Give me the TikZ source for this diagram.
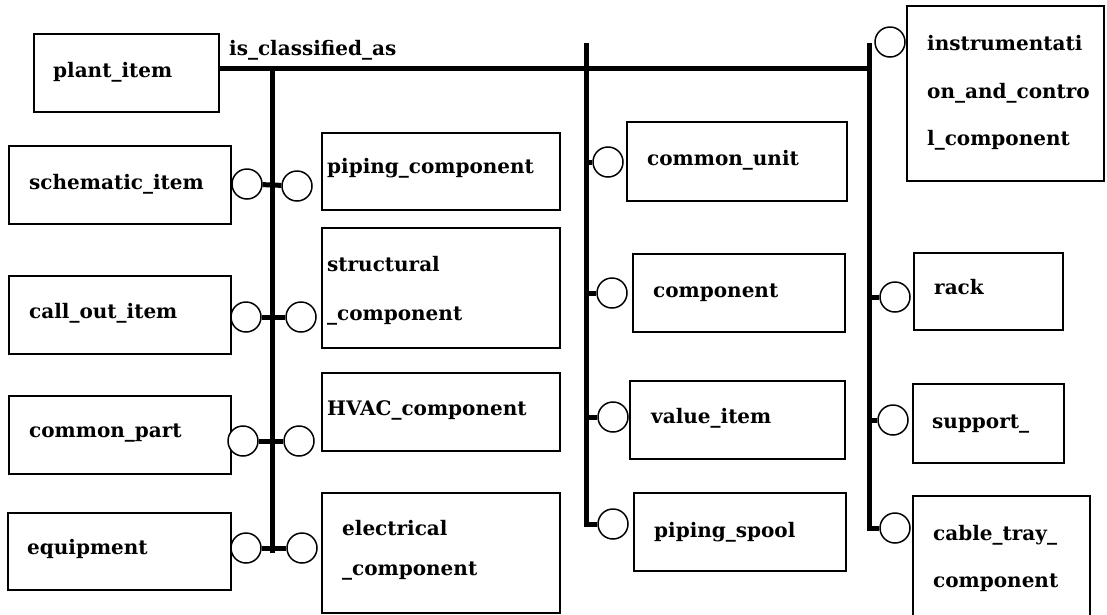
\documentclass[tikz,border=0pt]{standalone}
\usepackage{fontspec}
\setmainfont{DejaVu Serif}
\begin{document}
\begin{tikzpicture}[x=1pt,y=-1pt,
  box/.style={draw, line width=1.7pt, rectangle, inner sep=0pt, anchor=north west},
  lbl/.style={anchor=base west, inner sep=0pt, font=\fontsize{20}{24}\selectfont\bfseries},
  ring/.style={draw, circle, line width=1.5pt, minimum size=30pt, inner sep=0pt, fill=white},
  trunk/.style={line width=5pt},
  stub/.style={line width=5pt}]
\useasboundingbox (0,0) rectangle (1107,614);
\fill[white] (0,0) rectangle (1107,614);

% ---- boxes
\node[box, minimum width=185pt, minimum height=78pt] (plant) at (33,33) {};
\node[box, minimum width=222pt, minimum height=78pt] (schem) at (8,145) {};
\node[box, minimum width=222pt, minimum height=78pt] (callout) at (8,275) {};
\node[box, minimum width=222pt, minimum height=78pt] (cpart) at (8,395) {};
\node[box, minimum width=223pt, minimum height=77pt] (equip) at (7,512) {};
\node[box, minimum width=238pt, minimum height=77pt] (piping) at (321,132) {};
\node[box, minimum width=238pt, minimum height=120pt] (struct) at (321,227) {};
\node[box, minimum width=238pt, minimum height=78pt] (hvac) at (321,372) {};
\node[box, minimum width=238pt, minimum height=120pt] (elec) at (321,492) {};
\node[box, minimum width=220pt, minimum height=79pt] (cunit) at (626,121) {};
\node[box, minimum width=212pt, minimum height=78pt] (comp) at (632,253) {};
\node[box, minimum width=215pt, minimum height=78pt] (value) at (629,380) {};
\node[box, minimum width=212pt, minimum height=78pt] (spool) at (633,492) {};
\node[box, minimum width=197pt, minimum height=175pt] (instr) at (906,5) {};
\node[box, minimum width=149pt, minimum height=77pt] (rack) at (913,252) {};
\node[box, minimum width=151pt, minimum height=79pt] (support) at (912,383) {};
\node[box, minimum width=177pt, minimum height=130pt] (cable) at (912,495) {};

% ---- labels
\node[lbl] (t-plant) at (53,77) {plant\_item};
\node[lbl] (t-rel) at (229,55) {is\_classified\_as};
\node[lbl] (t-schem) at (29,189) {schematic\_item};
\node[lbl] (t-callout) at (29,318) {call\_out\_item};
\node[lbl] (t-cpart) at (29,437) {common\_part};
\node[lbl] (t-equip) at (27,554) {equipment};
\node[lbl] (t-piping) at (327,173) {piping\_component};
\node[lbl] (t-struct1) at (327,271) {structural};
\node[lbl] (t-struct2) at (327,320) {\_component};
\node[lbl] (t-hvac) at (327,415) {HVAC\_component};
\node[lbl] (t-elec1) at (342,535) {electrical};
\node[lbl] (t-elec2) at (342,575) {\_component};
\node[lbl] (t-cunit) at (647,165) {common\_unit};
\node[lbl] (t-comp) at (653,297) {component};
\node[lbl] (t-value) at (651,423) {value\_item};
\node[lbl] (t-spool) at (654,537) {piping\_spool};
\node[lbl] (t-instr1) at (927,50) {instrumentati};
\node[lbl] (t-instr2) at (927,98) {on\_and\_contro};
\node[lbl] (t-instr3) at (927,145) {l\_component};
\node[lbl] (t-rack) at (934,294) {rack};
\node[lbl] (t-support) at (932,428) {support\_};
\node[lbl] (t-cable1) at (933,540) {cable\_tray\_};
\node[lbl] (t-cable2) at (933,587) {component};

% ---- trunk coordinates
\coordinate (h0) at (218,68);
\coordinate (h1) at (872,68);
\coordinate (v1t) at (272,68);
\coordinate (v1b) at (272,553);
\coordinate (v2t) at (586,43);
\coordinate (v2b) at (586,526.5);
\coordinate (v3t) at (869,43);
\coordinate (v3b) at (869,530.5);
\coordinate (m1) at (584,162);
\coordinate (m2) at (584,293);
\coordinate (m3) at (584,417);
\coordinate (m4) at (584,524);
\coordinate (r2) at (867,297);
\coordinate (r3) at (867,420);
\coordinate (r4) at (867,528);

% ---- rings
\node[ring] (aL) at (247,184) {};
\node[ring] (aR) at (297,186) {};
\node[ring] (bL) at (246,317) {};
\node[ring] (bR) at (301,317) {};
\node[ring] (cL) at (243,441) {};
\node[ring] (cR) at (299,441) {};
\node[ring] (dL) at (246,548) {};
\node[ring] (dR) at (302,548) {};
\node[ring] (mc1) at (608,162) {};
\node[ring] (mc2) at (612,293) {};
\node[ring] (mc3) at (613,417) {};
\node[ring] (mc4) at (613,524) {};
\node[ring] (rc1) at (890,42) {};
\node[ring] (rc2) at (895,297) {};
\node[ring] (rc3) at (893,420) {};
\node[ring] (rc4) at (895,528) {};

% ---- trunks
\draw[trunk] (h0) -- (h1);
\draw[trunk] (v1t) -- (v1b);
\draw[trunk] (v2t) -- (v2b);
\draw[trunk] (v3t) -- (v3b);

% ---- stubs
\draw[stub] (aL) -- (aR);
\draw[stub] (bL) -- (bR);
\draw[stub] (cL) -- (cR);
\draw[stub] (dL) -- (dR);
\draw[stub] (m1) -- (mc1);
\draw[stub] (m2) -- (mc2);
\draw[stub] (m3) -- (mc3);
\draw[stub] (m4) -- (mc4);
\draw[stub] (r2) -- (rc2);
\draw[stub] (r3) -- (rc3);
\draw[stub] (r4) -- (rc4);
\end{tikzpicture}
\end{document}
